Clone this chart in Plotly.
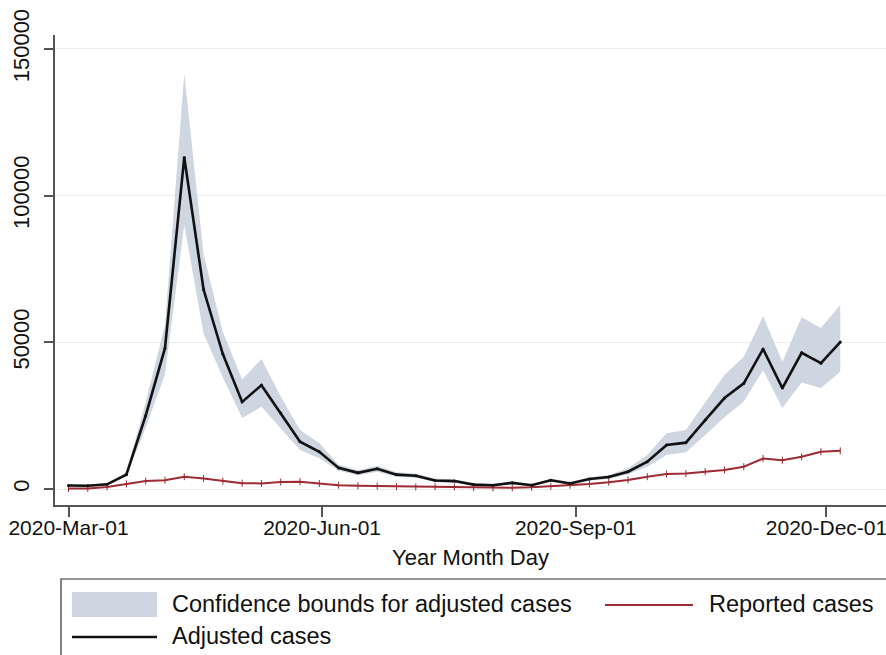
import plotly.graph_objects as go
import pandas as pd

# ---------------- data (weekly, starting 2020-03-01) ----------------
start_date = "2020-03-01"
n_weeks = 41
dates = pd.date_range(start_date, periods=n_weeks, freq="7D")

adjusted = [1200, 1100, 1600, 4900, 25000, 48000, 113000, 68000, 46000, 29700,
            35400, 25900, 16100, 12700, 7200, 5500, 6900, 4900, 4500, 2900,
            2700, 1500, 1300, 2100, 1300, 3000, 1900, 3400, 4100, 5900,
            9300, 15000, 15800, 23500, 31000, 36000, 47700, 34400, 46400, 42900,
            50100]

ci_upper = [1500, 1400, 2000, 5600, 29500, 56000, 141500, 80000, 53500, 37300,
            44300, 31500, 20100, 15700, 8300, 6400, 7900, 5700, 5300, 3500,
            3300, 1900, 1700, 2600, 1700, 3600, 2400, 4000, 4800, 7100,
            11600, 19000, 20100, 29300, 38900, 45100, 59000, 43400, 58500, 54900,
            62700]

ci_lower = [900, 800, 1200, 4300, 21000, 39000, 90000, 53000, 38000, 24200,
            28000, 20800, 13300, 10500, 6200, 4700, 5900, 4100, 3800, 2400,
            2200, 1100, 1000, 1700, 1000, 2500, 1500, 2900, 3400, 5000,
            7600, 11600, 12500, 18400, 24500, 29800, 40500, 27600, 36300, 34400,
            40000]

reported = [200, 200, 700, 1700, 2700, 3000, 4200, 3600, 2700, 2000,
            1900, 2400, 2500, 1900, 1300, 1100, 1000, 800, 700, 800,
            700, 500, 400, 400, 600, 900, 1300, 1700, 2300, 3100,
            4200, 5100, 5300, 5900, 6500, 7600, 10400, 9800, 11000, 12700,
            13000]

x_tick_dates = ["2020-03-01", "2020-06-01", "2020-09-01", "2020-12-01"]
y_tick_vals = [0, 50000, 100000, 150000]

legend_ci = "Confidence bounds for adjusted cases"
legend_reported = "Reported cases"
legend_adjusted = "Adjusted cases"
x_title = "Year Month Day"

# ---------------- styling ----------------
FONT = "Liberation Sans, Arial, Helvetica, sans-serif"
CI_COLOR = "#cdd6e1"
RED = "#9e2a33"
BLACK = "#111111"
AXIS = "#555555"
GRID = "#e7eef0"

W, H = 886, 655
ML, MR, MT, MB = 55, 0, 35, 150
PW, PH = W - ML - MR, H - MT - MB


def px_x(p):
    return (p - ML) / PW


def px_y(p):
    return (H - MB - p) / PH


fig = go.Figure()

fig.add_trace(go.Scatter(x=dates, y=ci_lower, mode="lines", line=dict(width=0),
                         hoverinfo="skip", showlegend=False))
fig.add_trace(go.Scatter(x=dates, y=ci_upper, mode="lines", line=dict(width=0),
                         fill="tonexty", fillcolor=CI_COLOR, name=legend_ci,
                         showlegend=False))
fig.add_trace(go.Scatter(x=dates, y=reported, mode="lines+markers", name=legend_reported,
                         line=dict(color=RED, width=2),
                         marker=dict(symbol="line-ns", size=5,
                                     line=dict(color=RED, width=1)),
                         showlegend=False))
fig.add_trace(go.Scatter(x=dates, y=adjusted, mode="lines+markers", name=legend_adjusted,
                         line=dict(color=BLACK, width=2.6),
                         marker=dict(size=3, color=BLACK),
                         showlegend=False))

d0 = pd.Timestamp(start_date)
x_range = [d0 - pd.Timedelta(days=4.9), d0 + pd.Timedelta(days=296.6)]

fig.update_layout(
    width=W, height=H,
    margin=dict(l=ML, r=MR, t=MT, b=MB),
    paper_bgcolor="white", plot_bgcolor="white",
    font=dict(family=FONT, color="#111111"),
    showlegend=False,
    xaxis=dict(
        range=x_range,
        tickvals=pd.to_datetime(x_tick_dates),
        tickformat="%Y-%b-%d",
        tickfont=dict(size=21, family=FONT),
        ticks="outside", ticklen=10, tickwidth=1.5, tickcolor=AXIS,
        ticklabelstandoff=-7,
        ticklabeloverflow="allow",
        showline=True, linecolor=AXIS, linewidth=1.5,
        showgrid=False, zeroline=False,
        title=dict(text=x_title, font=dict(size=22, family=FONT), standoff=12),
        automargin=False,
    ),
    yaxis=dict(
        range=[-5450, 154740],
        tickvals=y_tick_vals,
        tickformat="d",
        tickangle=-90,
        tickfont=dict(size=22, family=FONT),
        ticks="outside", ticklen=9, tickwidth=1.5, tickcolor=AXIS,
        ticklabelstandoff=6,
        ticklabeloverflow="allow",
        showline=True, linecolor=AXIS, linewidth=1.5,
        showgrid=True, gridcolor=GRID, gridwidth=1,
        zeroline=False,
        automargin=False,
    ),
)

# ---------------- legend (drawn as shapes + text) ----------------
shapes = [
    dict(type="rect", xref="paper", yref="paper",
         x0=px_x(61), x1=px_x(905), y0=px_y(579), y1=px_y(680),
         line=dict(color="#333333", width=1.2), fillcolor="rgba(0,0,0,0)", layer="above"),
    dict(type="rect", xref="paper", yref="paper",
         x0=px_x(72), x1=px_x(157), y0=px_y(592), y1=px_y(617),
         line=dict(width=0), fillcolor=CI_COLOR),
    dict(type="line", xref="paper", yref="paper",
         x0=px_x(605), x1=px_x(693), y0=px_y(605), y1=px_y(605),
         line=dict(color=RED, width=2)),
    dict(type="line", xref="paper", yref="paper",
         x0=px_x(72), x1=px_x(157), y0=px_y(637), y1=px_y(637),
         line=dict(color=BLACK, width=2.5)),
]
fig.update_layout(shapes=shapes)

for text, lx, ly in [(legend_ci, 172, 604), (legend_reported, 709, 604), (legend_adjusted, 172, 636)]:
    fig.add_annotation(text=text, xref="paper", yref="paper", x=px_x(lx) - 0.002, y=px_y(ly),
                       xanchor="left", yanchor="middle", showarrow=False,
                       font=dict(size=23.5, family=FONT, color="#111111"))

fig.write_html(
    "out.html",
    config={"displayModeBar": False},
    post_script="document.body.style.margin='0';document.body.style.overflow='hidden';"
)
